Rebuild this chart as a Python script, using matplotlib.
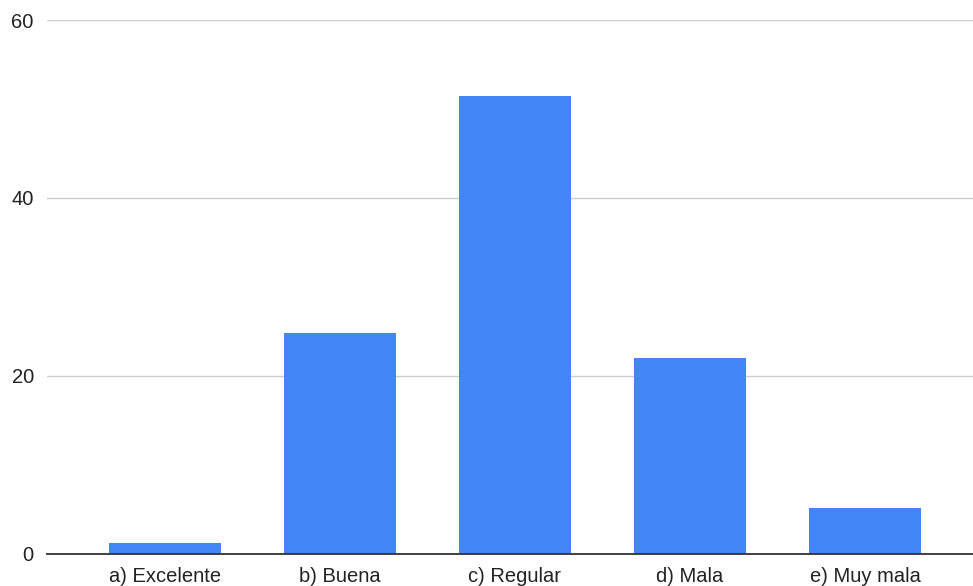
import matplotlib.pyplot as plt

categories = ["a) Excelente", "b) Buena", "c) Regular", "d) Mala", "e) Muy mala"]
values = [1.2, 24.8, 51.4, 22.0, 5.1]
yticks = [0, 20, 40, 60]

plt.rcParams['font.family'] = ['Liberation Sans', 'DejaVu Sans']

fig = plt.figure(figsize=(9.73, 5.86), dpi=100)
ax = fig.add_axes([47 / 973, 32.5 / 586, 1 - 47 / 973, 533.5 / 586])

x = range(len(categories))
ax.bar(x, values, width=0.645, color="#4285F4", zorder=3)

ax.set_ylim(0, 60)
ax.set_xlim(-0.674, 4.617)
ax.set_yticks(yticks)
ax.set_xticks(list(x))
ax.set_xticklabels(categories)

# gridlines, no frame except the zero line
ax.grid(axis="y", color="#cccccc", linewidth=1, zorder=0)
for side in ["top", "right", "left"]:
    ax.spines[side].set_visible(False)
ax.spines["bottom"].set_color("#333333")
ax.spines["bottom"].set_linewidth(1.3)
ax.spines["bottom"].set_zorder(4)

ax.tick_params(axis="y", length=0, pad=9.5, labelsize=14.5, labelcolor="#222222")
ax.tick_params(axis="x", length=0, pad=10, labelsize=14.5, labelcolor="#222222")

fig.savefig("out.png", dpi=100)
